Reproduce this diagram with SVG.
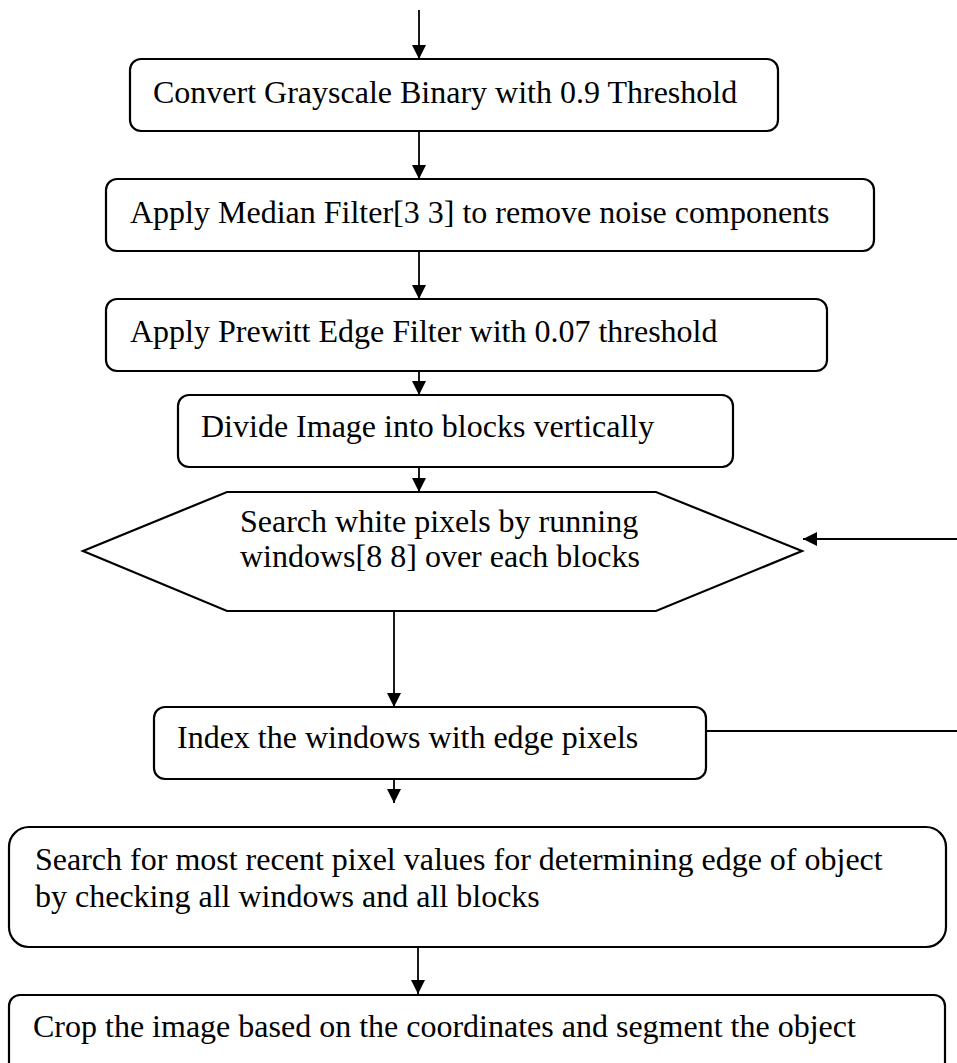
<svg xmlns="http://www.w3.org/2000/svg" width="957" height="1063" viewBox="0 0 957 1063">
<style>
.n{fill:#fff;stroke:#000;stroke-width:2.2}
.t{font-family:"Liberation Serif","Times New Roman",serif;font-size:32px;fill:#000}
.c{stroke:#000;stroke-width:1.8;fill:none}
</style>
<defs>
<marker id="ah" viewBox="0 0 14 16" refX="14" refY="8" markerWidth="14" markerHeight="16" markerUnits="userSpaceOnUse" orient="auto">
<path d="M0,1 L14,8 L0,15 Z" fill="#000"/>
</marker>
</defs>
<rect width="957" height="1063" fill="#fff"/>
<g id="connectors">
<line class="c" x1="419" y1="10" x2="419" y2="59" marker-end="url(#ah)"/>
<line class="c" x1="419" y1="131" x2="419" y2="179" marker-end="url(#ah)"/>
<line class="c" x1="419" y1="251" x2="419" y2="299" marker-end="url(#ah)"/>
<line class="c" x1="419" y1="371" x2="419" y2="395" marker-end="url(#ah)"/>
<line class="c" x1="419" y1="467" x2="419" y2="492" marker-end="url(#ah)"/>
<line class="c" x1="394" y1="611" x2="394" y2="707" marker-end="url(#ah)"/>
<line class="c" x1="394" y1="779" x2="394" y2="803" marker-end="url(#ah)"/>
<line class="c" x1="418" y1="947" x2="418" y2="994" marker-end="url(#ah)"/>
<line class="c" x1="706" y1="731" x2="957" y2="731"/>
<line class="c" x1="957" y1="539" x2="803" y2="539" marker-end="url(#ah)"/>
</g>
<g id="n1">
<rect class="n" x="130" y="59" width="648" height="72" rx="11"/>
<text class="t" x="153" y="103">Convert Grayscale Binary with 0.9 Threshold</text>
</g>
<g id="n2">
<rect class="n" x="106" y="179" width="768" height="72" rx="11"/>
<text class="t" x="130" y="223">Apply Median Filter[3 3] to remove noise components</text>
</g>
<g id="n3">
<rect class="n" x="106" y="299" width="721" height="72" rx="11"/>
<text class="t" x="130" y="342">Apply Prewitt Edge Filter with 0.07 threshold</text>
</g>
<g id="n4">
<rect class="n" x="178" y="395" width="555" height="72" rx="11"/>
<text class="t" x="201" y="437">Divide Image into blocks vertically</text>
</g>
<g id="n5">
<polygon class="n" points="227,492 656,492 802,551 656,611 227,611 83,551"/>
<text class="t" x="240" y="532">Search white pixels by running</text>
<text class="t" x="240" y="567">windows[8 8] over each blocks</text>
</g>
<g id="n6">
<rect class="n" x="154" y="707" width="552" height="72" rx="11"/>
<text class="t" x="177" y="748">Index the windows with edge pixels</text>
</g>
<g id="n7">
<rect class="n" x="9" y="827" width="937" height="120" rx="20"/>
<text class="t" x="35" y="870">Search for most recent pixel values for determining edge of object</text>
<text class="t" x="35" y="907">by checking all windows and all blocks</text>
</g>
<g id="n8">
<rect class="n" x="9" y="995" width="936" height="100" rx="11"/>
<text class="t" x="33" y="1037">Crop the image based on the coordinates and segment the object</text>
</g>
</svg>
